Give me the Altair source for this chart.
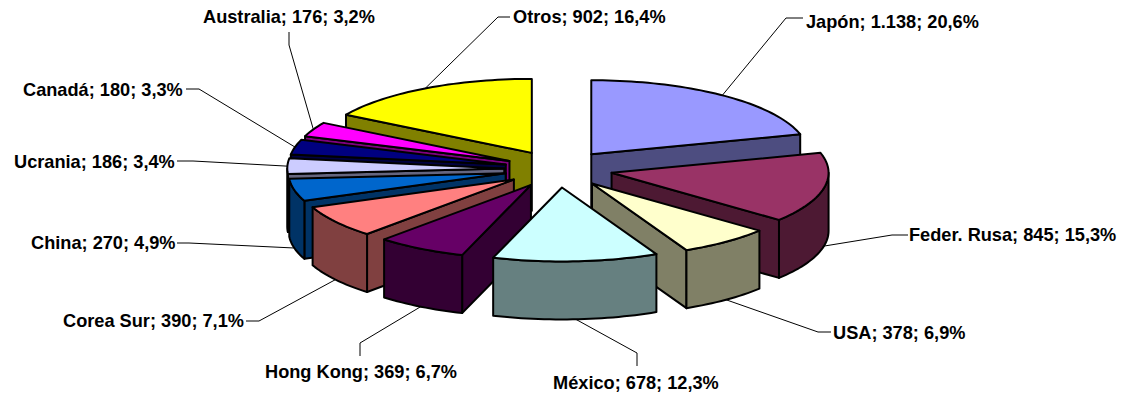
import math
import altair as alt

names = ["Japón", "Feder. Rusa", "USA", "México", "Hong Kong", "Corea Sur", "China",
         "Ucrania", "Canadá", "Australia", "Otros"]
values = [1138, 845, 378, 678, 369, 390, 270, 186, 180, 176, 902]
value_text = ["1.138", "845", "378", "678", "369", "390", "270", "186", "180", "176", "902"]
pct_text = ["20,6%", "15,3%", "6,9%", "12,3%", "6,7%", "7,1%", "4,9%", "3,4%", "3,3%", "3,2%", "16,4%"]
top_colors = ["#9999FF", "#993366", "#FFFFCC", "#CCFFFF", "#660066", "#FF8080", "#0066CC",
              "#CCCCFF", "#000080", "#FF00FF", "#FFFF00"]
side_colors = ["#4D4D80", "#4D1933", "#808066", "#668080", "#330033", "#804040", "#003366",
               "#666680", "#000040", "#800080", "#808000"]

# label layout (page pixels): text left edge, text middle, leader elbow start and elbow
label_x = [806, 909, 833, 553, 265, 63, 31, 14, 23, 203, 513]
label_y = [23, 236, 334, 384, 373, 322, 244, 163, 91, 17.5, 17.5]
lead_start = [(803, 18), (908, 235), (831, 332), (637, 366), (360, 356), (246, 321),
              (177, 243), (177, 161), (186, 89), (289, 32), (510, 17)]
lead_elbow = [(786, 18), (892, 235), (818, 332), (637, 353), (360, 343), (259, 321),
              (189, 243), (193, 161), (199, 89), (289, 45), (498, 17)]

CX, CY, RX, RY, EXPLODE, DEPTH = 558.5, 169.0, 217.0, 74.0, 0.25, 58.0
OFF = 8  # page margin
W, H = 1111, 386

total = sum(values)


def pt(tip, deg, drop=0.0):
    a = math.radians(deg)
    return [tip[0] + RX * math.sin(a) - OFF, tip[1] - RY * math.cos(a) + drop - OFF]


def down(p):
    return [p[0], p[1] + DEPTH]


def poly(points, fill):
    return {"type": "Feature", "properties": {"fill": fill},
            "geometry": {"type": "Polygon", "coordinates": [points + [points[0]]]}}


slices = []
cum = 0.0
for i, v in enumerate(values):
    a0 = cum / total * 360
    cum += v
    a1 = cum / total * 360
    mid = (a0 + a1) / 2
    m = math.radians(mid)
    tip = (CX + EXPLODE * RX * math.sin(m), CY - EXPLODE * RY * math.cos(m))
    slices.append((i, a0, a1, mid, tip))

features = []
leaders = []
for i, a0, a1, mid, tip in sorted(slices, key=lambda s: -math.cos(math.radians(s[3]))):
    t = [tip[0] - OFF, tip[1] - OFF]
    # radial walls that face the viewer
    if math.sin(math.radians(a0)) < -1e-9:
        p = pt(tip, a0)
        features.append(poly([t, p, down(p), down(t)], side_colors[i]))
    if math.sin(math.radians(a1)) > 1e-9:
        p = pt(tip, a1)
        features.append(poly([t, p, down(p), down(t)], side_colors[i]))
    # outer wall, front half only
    w0, w1 = max(a0, 90), min(a1, 270)
    if w1 > w0:
        n = max(4, int((w1 - w0) / 1.5))
        arc = [pt(tip, w0 + (w1 - w0) * k / n) for k in range(n + 1)]
        features.append(poly(arc + [down(p) for p in reversed(arc)], side_colors[i]))
    # top face
    n = max(4, int((a1 - a0) / 1.5))
    arc = [pt(tip, a0 + (a1 - a0) * k / n) for k in range(n + 1)]
    features.append(poly([t] + arc, top_colors[i]))

for i, a0, a1, mid, tip in slices:
    end = pt(tip, mid, DEPTH if math.cos(math.radians(mid)) < 0 else 0.0)
    sx, sy = lead_start[i]
    ex, ey = lead_elbow[i]
    leaders.append({"type": "Feature", "properties": {},
                    "geometry": {"type": "LineString",
                                 "coordinates": [[sx - OFF, sy - OFF], [ex - OFF, ey - OFF], end]}})

labels = [{"label": f"{names[i]}; {value_text[i]}; {pct_text[i]}",
           "px": label_x[i] - OFF, "py": label_y[i] - OFF} for i in range(len(names))]

proj = dict(type="identity", scale=1, translate=[0, 0])

lead_chart = alt.Chart(
    alt.Data(values={"type": "FeatureCollection", "features": leaders},
             format=alt.DataFormat(type="json", property="features"))
).mark_geoshape(filled=False, stroke="#000000", strokeWidth=1).project(**proj)

pie_chart = alt.Chart(
    alt.Data(values={"type": "FeatureCollection", "features": features},
             format=alt.DataFormat(type="json", property="features"))
).mark_geoshape(stroke="#000000", strokeWidth=2, strokeJoin="round").encode(
    fill=alt.Fill("properties.fill:N", scale=None, legend=None)
).project(**proj)

text_chart = alt.Chart(alt.Data(values=labels)).mark_text(
    font="Liberation Sans", fontSize=18.2, fontWeight="bold", align="left", baseline="middle", color="#000000"
).encode(
    x=alt.X("px:Q", scale=alt.Scale(domain=[0, W], range=[0, W]), axis=None),
    y=alt.Y("py:Q", scale=alt.Scale(domain=[0, H], range=[0, H]), axis=None),
    text="label:N",
)

chart = alt.layer(lead_chart, pie_chart, text_chart).properties(
    width=W, height=H, padding=0, autosize=alt.AutoSizeParams(type="none"), background="#FFFFFF"
).configure_view(stroke=None)

chart.save("out.html", embed_options={"renderer": "svg", "actions": False})
